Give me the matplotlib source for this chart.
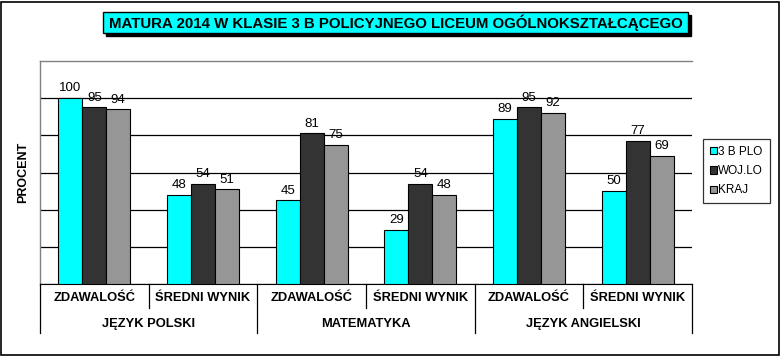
import matplotlib
matplotlib.use("Agg")
import matplotlib.pyplot as plt
from matplotlib.patches import Rectangle
from matplotlib.lines import Line2D
import numpy as np

plt.rcParams['font.family'] = ['Liberation Sans', 'DejaVu Sans']

subcats = ["ZDAWALOŚĆ", "ŚREDNI WYNIK", "ZDAWALOŚĆ", "ŚREDNI WYNIK", "ZDAWALOŚĆ", "ŚREDNI WYNIK"]
groups = ["JĘZYK POLSKI", "MATEMATYKA", "JĘZYK ANGIELSKI"]
series_names = ["3 B PLO", "WOJ.LO", "KRAJ"]
klasa = [100, 48, 45, 29, 89, 50]
woj = [95, 54, 81, 54, 95, 77]
kraj = [94, 51, 75, 48, 92, 69]
colors = ["#00FFFF", "#333333", "#969696"]
title = "MATURA 2014 W KLASIE 3 B POLICYJNEGO LICEUM OGÓLNOKSZTAŁCĄCEGO"

W, H = 783, 358
fig = plt.figure(figsize=(W / 100, H / 100), dpi=100)

def fx(px):
    return px / W
def fy(py):
    return 1 - py / H

# outer border
fig.patches.append(Rectangle((1 / W, 3 / H), 778 / W, 353 / H, transform=fig.transFigure,
                             fill=False, edgecolor="black", linewidth=1.2))

L, R, T, B = 40, 692, 61, 284
ax = fig.add_axes([L / W, 1 - B / H, (R - L) / W, (B - T) / H])
n = len(subcats)
x = np.arange(n)
bw = 0.22
for i, (vals, c) in enumerate(zip([klasa, woj, kraj], colors)):
    pos = x + (i - 1) * bw
    ax.bar(pos, vals, width=bw, color=c, edgecolor="black", linewidth=0.8, zorder=3,
           label=series_names[i])
    for p, v in zip(pos, vals):
        ax.text(p, v + 2, str(v), ha="center", va="bottom", fontsize=9.5, zorder=4)

ax.set_xlim(-0.5, n - 0.5)
ax.set_ylim(0, 120)
ax.set_yticks(np.arange(0, 101, 20))
ax.yaxis.grid(True, color="black", linewidth=0.9, zorder=0)
ax.tick_params(axis="y", length=0, labelleft=False)
ax.set_xticks([])
for s in ["top", "left", "right"]:
    ax.spines[s].set_color("#808080")
    ax.spines[s].set_linewidth(1)
ax.spines["right"].set_visible(False)
ax.spines["bottom"].set_color("black")
ax.set_ylabel("PROCENT", fontsize=9, fontweight="bold", labelpad=8)

# category axis area
cw = (R - L) / n
for k in range(n + 1):
    xp = L + k * cw
    bottom = 333 if k % 2 == 0 else 308
    fig.add_artist(Line2D([fx(xp), fx(xp)], [fy(B), fy(bottom)], color="black", linewidth=0.9))
for k, lab in enumerate(subcats):
    fig.text(fx(L + (k + 0.5) * cw), fy(298), lab, ha="center", va="center",
             fontsize=9.3, fontweight="bold")
for g, lab in enumerate(groups):
    fig.text(fx(L + (2 * g + 1) * cw), fy(324), lab, ha="center", va="center",
             fontsize=9.3, fontweight="bold")

# title with shadow
tx0, tx1, ty0, ty1 = 103, 688, 12, 33
fig.patches.append(Rectangle((fx(tx0 + 3), fy(ty1 + 3)), (tx1 - tx0) / W, (ty1 - ty0) / H,
                             transform=fig.transFigure, facecolor="black", edgecolor="black"))
fig.patches.append(Rectangle((fx(tx0), fy(ty1)), (tx1 - tx0) / W, (ty1 - ty0) / H,
                             transform=fig.transFigure, facecolor="#00FFFF", edgecolor="black",
                             linewidth=1))
fig.text(fx((tx0 + tx1) / 2), fy((ty0 + ty1) / 2 + 0.5), title, ha="center", va="center",
         fontsize=10.8, fontweight="bold")

# legend
leg = ax.legend(loc="upper left", bbox_to_anchor=(703 / W, 1 - 139 / H), bbox_transform=fig.transFigure,
                fontsize=8.5, frameon=True, fancybox=False, edgecolor="black", handlelength=0.55,
                handleheight=0.55, handletextpad=0.15, labelspacing=0.6, borderpad=0.6,
                borderaxespad=0)
leg.get_frame().set_linewidth(0.9)

fig.savefig("out.png", dpi=100)
